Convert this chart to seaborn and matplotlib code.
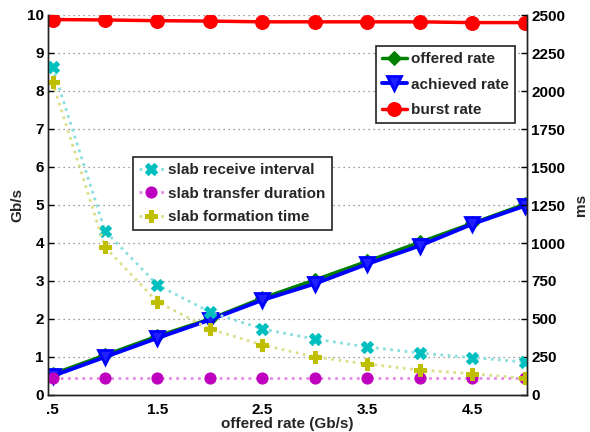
import matplotlib
matplotlib.use("Agg")
import matplotlib.pyplot as plt
import seaborn as sns
import pandas as pd

sns.set_style("white")
plt.rcParams["font.family"] = ["Liberation Sans", "DejaVu Sans"]
plt.rcParams["font.weight"] = "bold"

# offered rate (Gb/s) on the x axis
rate = [0.5, 1.0, 1.5, 2.0, 2.5, 3.0, 3.5, 4.0, 4.5, 5.0]

# left axis (Gb/s)
offered = [0.55, 1.05, 1.55, 2.0, 2.55, 3.03, 3.52, 4.02, 4.52, 5.02]
achieved = [0.5, 1.0, 1.5, 1.98, 2.5, 2.93, 3.45, 3.93, 4.5, 4.98]
burst = [9.88, 9.87, 9.85, 9.84, 9.82, 9.82, 9.82, 9.82, 9.80, 9.80]

# right axis (ms)
receive_interval = [2158, 1079, 724, 546, 434, 368, 316, 276, 246, 217]
transfer_duration = [110, 110, 110, 110, 110, 110, 110, 110, 110, 110]
formation_time = [2059, 973, 612, 434, 329, 250, 204, 164, 140, 110]

xtick_pos = [0.5, 1.5, 2.5, 3.5, 4.5]
xtick_labels = [".5", "1.5", "2.5", "3.5", "4.5"]

fig = plt.figure(figsize=(5.9, 4.32), dpi=100)
ax = fig.add_axes([48 / 590, 37 / 432, (527 - 48) / 590, (395 - 15) / 432])
ax2 = ax.twinx()

df = pd.DataFrame({
    "rate": rate, "offered": offered, "achieved": achieved, "burst": burst,
    "recv": receive_interval, "xfer": transfer_duration, "form": formation_time,
})

sns.lineplot(data=df, x="rate", y="offered", ax=ax, color="#008000", lw=2.5,
             marker="D", ms=7, mec="#008000", label="offered rate")
sns.lineplot(data=df, x="rate", y="achieved", ax=ax, color="#0000ff", lw=2.8,
             marker="v", ms=10, mfc="#2020ff", mec="#0000ff", mew=2, label="achieved rate")
sns.lineplot(data=df, x="rate", y="burst", ax=ax, color="#ff0000", lw=2.5,
             marker="o", ms=10, mec="#ff0000", label="burst rate")

# dotted slab-timing series: pale dotted lines, solid markers
dotted = [
    ("recv", "#00bfbf", "#8adede", "X", "slab receive interval"),
    ("xfer", "#bf00bf", "#e68ae6", "o", "slab transfer duration"),
    ("form", "#bfbf00", "#dede8a", "P", "slab formation time"),
]
for col, c, pale, mk, lab in dotted:
    sns.lineplot(data=df, x="rate", y=col, ax=ax2, color=c, lw=2,
                 ls=(0, (1, 1.6)), marker=mk, ms=8, mec=c, label=lab)
for line, (_, c, pale, _, _) in zip(ax2.get_lines(), dotted):
    line.set_color(pale)
    line.set_markerfacecolor(c)
    line.set_markeredgecolor(c)

ax.set_xlim(0.457, 5.02)
ax.set_ylim(0, 10)
ax2.set_ylim(0, 2500)
ax.set_yticks(range(0, 11))
ax2.set_yticks(range(0, 2501, 250))
ax.set_xticks(xtick_pos)
ax.set_xticklabels(xtick_labels)

ax.yaxis.grid(True, ls=(0, (1, 3)), color="#808080", lw=0.9)
ax.xaxis.grid(False)
ax2.grid(False)

for a in (ax, ax2):
    a.tick_params(direction="in", length=4, width=1, labelsize=11, colors="black")
    for lbl in a.get_xticklabels() + a.get_yticklabels():
        lbl.set_fontweight("bold")
    for side in ("left", "right", "bottom"):
        a.spines[side].set_visible(True)
        a.spines[side].set_color("#222222")
        a.spines[side].set_linewidth(1)
    a.spines["top"].set_visible(False)
ax.tick_params(axis="y", pad=3)
ax2.tick_params(axis="y", pad=3)
ax.tick_params(axis="x", pad=6)

ax.set_xlabel("offered rate (Gb/s)", fontsize=11, fontweight="bold", labelpad=0)
ax.set_ylabel("Gb/s", fontsize=11, fontweight="bold", labelpad=2)
ax2.set_ylabel("ms", fontsize=11, fontweight="bold", labelpad=6)

leg_kw = dict(frameon=True, fancybox=False, framealpha=1, edgecolor="#222222",
              handlelength=1.6, handletextpad=0.3, labelspacing=0.62,
              borderpad=0.4, borderaxespad=0, loc="upper left",
              bbox_transform=fig.transFigure,
              prop={"weight": "bold", "size": 11})
h1, t1 = ax.get_legend_handles_labels()
ax.get_legend().remove()
leg2 = ax2.legend(bbox_to_anchor=(133 / 590, 1 - 157 / 432), **leg_kw)
leg1 = ax2.legend(h1, t1, bbox_to_anchor=(376 / 590, 1 - 46 / 432),
                  **{**leg_kw, "labelspacing": 0.75})
ax2.add_artist(leg2)
for lg in (leg1, leg2):
    lg.get_frame().set_linewidth(1.2)

fig.savefig("out.png", dpi=100)
